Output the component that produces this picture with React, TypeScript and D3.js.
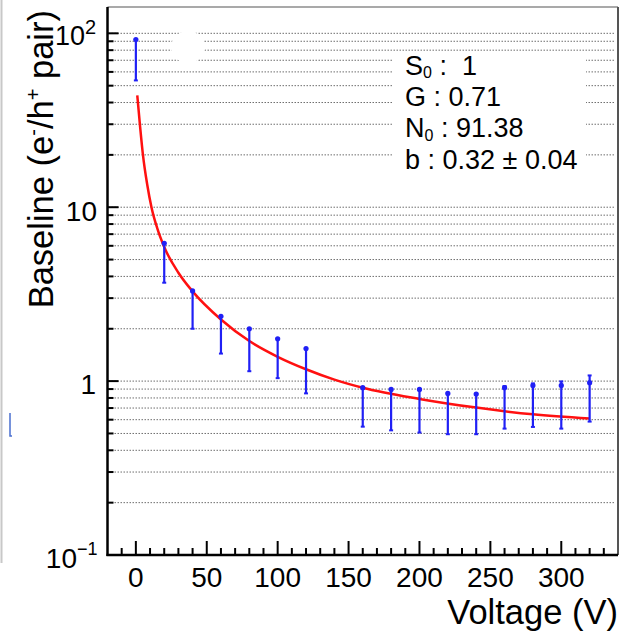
import React from "react";
import * as d3 from "d3";

// ---- data ----
const voltages = [0, 20, 40, 60, 80, 100, 120, 160, 180, 200, 220, 240, 260, 280, 300, 320];
const baseline = [92, 6.2, 3.3, 2.36, 2.0, 1.75, 1.54, 0.917, 0.896, 0.896, 0.85, 0.842, 0.917, 0.945, 0.945, 0.979];
const errUpper = [92, 6.2, 3.3, 2.36, 2.0, 1.75, 1.54, 0.92, 0.9, 0.9, 0.855, 0.845, 0.936, 0.97, 0.996, 1.078];
const errLower = [53.6, 3.68, 2.0, 1.44, 1.14, 1.04, 0.85, 0.547, 0.521, 0.506, 0.495, 0.495, 0.533, 0.545, 0.533, 0.585];

const fitVoltage = [1, 3, 5, 8, 11, 15, 20, 30, 40, 60, 80, 100, 120, 140, 160, 200, 240, 280, 320];
const fitBaseline = [44, 29, 20, 13.5, 10, 7.6, 5.9, 4.2, 3.28, 2.26, 1.7, 1.38, 1.17, 1.02, 0.916, 0.79, 0.704, 0.644, 0.609];

const xTicksMajor = [0, 50, 100, 150, 200, 250, 300];
const yDecades = [0.1, 1, 10, 100];
const legendLines = [
  { main: "S", sub: "0", rest: " :  1" },
  { main: "G", sub: "", rest: " : 0.71" },
  { main: "N", sub: "0", rest: " : 91.38" },
  { main: "b", sub: "", rest: " : 0.32 \u00b1 0.04" },
];

const FONT = "'Liberation Sans', Arial, Helvetica, sans-serif";

export default function App() {
  const left = 107.5, right = 618, top = 7, bottom = 555;
  const x = d3.scaleLinear().domain([-20, 340]).range([left, right]);
  const y = d3.scaleLog().domain([0.1, 141.7]).range([bottom, top]);

  // grid values: 1..9 x decade up to 100
  const gridVals: number[] = [];
  [0.1, 1, 10].forEach((d) => {
    for (let k = 2; k <= 9; k++) gridVals.push(d * k);
    gridVals.push(d * 10);
  });

  const xMinor = d3.range(-10, 341, 10).filter((v) => v % 50 !== 0);

  const line = d3
    .line<number>()
    .x((_, i) => x(fitVoltage[i]))
    .y((d) => y(d))
    .curve(d3.curveMonotoneX);

  const blue = "#2020f5";

  return (
    <svg
      width={641}
      height={635}
      style={{ position: "absolute", left: 0, top: 0, background: "#fff" }}
      fontFamily={FONT}
    >
      <rect x={0} y={0} width={641} height={635} fill="#fff" />
      {/* page artifacts */}
      <line x1={1.5} y1={0} x2={1.5} y2={563} stroke="#c8c8c8" strokeWidth={2} />
      <path d="M10,413 V436 H12" fill="none" stroke="#4a6fd0" strokeWidth={1.5} />

      {/* grid */}
      {gridVals.map((v, i) => (
        <line
          key={"g" + i}
          x1={left + 1}
          x2={right - 3}
          y1={y(v)}
          y2={y(v)}
          stroke="#6e6e6e"
          strokeWidth={1}
          strokeDasharray="1.5 1.5"
        />
      ))}

      {/* white blob and legend box */}
      <ellipse cx={188} cy={47} rx={17} ry={16} fill="#fff" />
      <rect x={393} y={53} width={193} height={128} fill="#fff" />

      {/* y ticks */}
      {gridVals.map((v, i) => {
        const major = yDecades.includes(Math.round(v * 1000) / 1000);
        return (
          <line
            key={"yt" + i}
            x1={left}
            x2={left + (major ? 11 : 6)}
            y1={y(v)}
            y2={y(v)}
            stroke="#000"
            strokeWidth={2}
          />
        );
      })}
      {/* x ticks */}
      {xTicksMajor.map((v) => (
        <line key={"xt" + v} x1={x(v)} x2={x(v)} y1={bottom} y2={bottom - 14} stroke="#000" strokeWidth={2} />
      ))}
      {xMinor.map((v) => (
        <line key={"xm" + v} x1={x(v)} x2={x(v)} y1={bottom} y2={bottom - 7} stroke="#000" strokeWidth={2} />
      ))}

      {/* frame */}
      <line x1={left} x2={right} y1={top} y2={top} stroke="#8c8c8c" strokeWidth={1.5} />
      <line x1={right} x2={right} y1={top} y2={bottom} stroke="#555" strokeWidth={2} />
      <line x1={left} x2={left} y1={top} y2={bottom + 1} stroke="#000" strokeWidth={2.5} />
      <line x1={left - 1} x2={right} y1={bottom} y2={bottom} stroke="#000" strokeWidth={2.5} />

      {/* fit curve */}
      <path d={line(fitBaseline) || ""} fill="none" stroke="#ff1010" strokeWidth={2.5} />

      {/* error bars */}
      {voltages.map((v, i) => {
        const cx = x(v);
        return (
          <g key={"p" + i}>
            <line x1={cx} x2={cx} y1={y(errUpper[i])} y2={y(errLower[i])} stroke={blue} strokeWidth={2.2} />
            <line x1={cx - 2} x2={cx + 2} y1={y(errUpper[i])} y2={y(errUpper[i])} stroke={blue} strokeWidth={2} />
            <line x1={cx - 2} x2={cx + 2} y1={y(errLower[i])} y2={y(errLower[i])} stroke={blue} strokeWidth={2} />
            <circle cx={cx} cy={y(baseline[i])} r={2.6} fill={blue} />
          </g>
        );
      })}

      {/* y tick labels */}
      <text x={85} y={45} fontSize={27} textAnchor="end" fill="#000">10</text>
      <text x={85} y={33.5} fontSize={20} fill="#000">2</text>
      <text x={97} y={y(10) + 14} fontSize={28} textAnchor="end" fill="#000">10</text>
      <text x={96} y={y(1) + 12.5} fontSize={28} textAnchor="end" fill="#000">1</text>
      <text x={77} y={568} fontSize={28} textAnchor="end" fill="#000">10</text>
      <text x={77} y={555} fontSize={18} fill="#000">{"\u22121"}</text>

      {/* x tick labels */}
      {xTicksMajor.map((v) => (
        <text key={"xl" + v} x={x(v)} y={586.5} fontSize={28} textAnchor="middle" fill="#000">
          {v}
        </text>
      ))}

      {/* axis titles */}
      <text x={618} y={624} fontSize={34.5} textAnchor="end" fill="#000">Voltage (V)</text>
      <text transform="translate(53,10) rotate(-90)" fontSize={34.5} textAnchor="end" fill="#000">
        Baseline (e
        <tspan dy={-13} fontSize={20}>-</tspan>
        <tspan dy={13}>/h</tspan>
        <tspan dy={-13} fontSize={20}>+</tspan>
        <tspan dy={13}> pair)</tspan>
      </text>

      {/* legend */}
      {legendLines.map((l, i) => (
        <text key={"lg" + i} x={405} y={74.5 + i * 31.4} fontSize={27} fill="#000" style={{ whiteSpace: "pre" }}>
          {l.main}
          {l.sub ? (
            <tspan dy={3.5} fontSize={16}>{l.sub}</tspan>
          ) : null}
          <tspan dy={l.sub ? -3.5 : 0}>{l.rest}</tspan>
        </text>
      ))}
    </svg>
  );
}
